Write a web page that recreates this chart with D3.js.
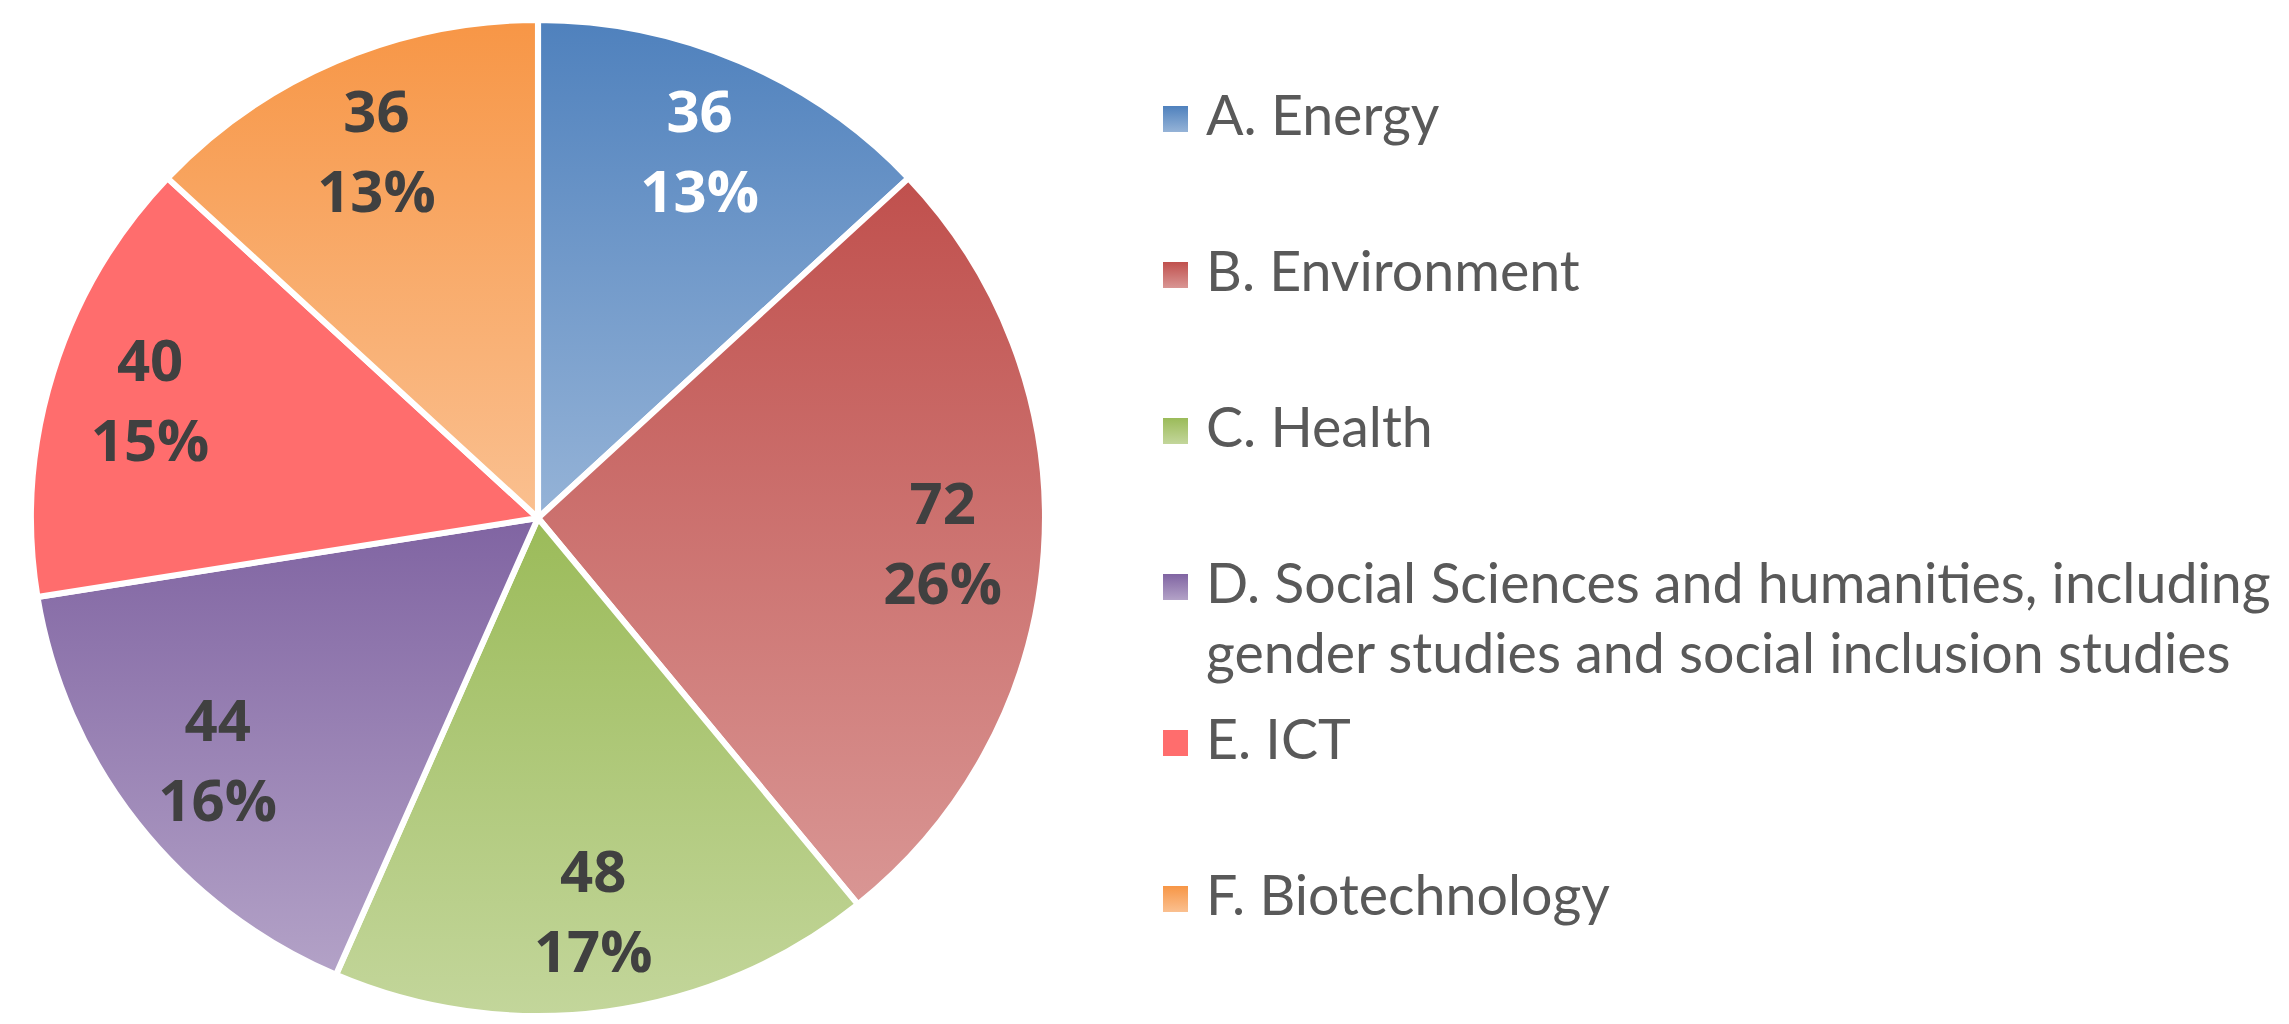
<!DOCTYPE html>
<html>
<head>
<meta charset="utf-8">
<script src="https://cdn.jsdelivr.net/npm/d3@7"></script>
<style>
  html, body { margin: 0; padding: 0; background: #fff; }
  svg { display: block; }
</style>
</head>
<body>
<svg width="2289" height="1024"></svg>
<script>
const svg = d3.select("svg");
const width = +svg.attr("width");
const height = +svg.attr("height");

// data
const categories = ["A. Energy", "B. Environment", "C. Health",
  "D. Social Sciences and humanities, including|gender studies and social inclusion studies",
  "E. ICT", "F. Biotechnology"];
const values = [36, 72, 48, 44, 40, 36];
const pctLabels = ["13%", "26%", "17%", "16%", "15%", "13%"];

// gradient colours, top -> bottom
const topColors = ["#4f81bd", "#c0504d", "#9bbb59", "#8064a2", "#ff6d6d", "#f79646"];
const bottomColors = ["#95b3d7", "#d99694", "#c3d69b", "#b3a2c7", "#ff6d6d", "#fac090"];
const labelColors = ["#ffffff", "#404040", "#404040", "#404040", "#404040", "#404040"];

const cx = 538, cy = 518;
const r = 498;
const sx = 507 / 498; // pie is a little wider than tall

const defs = svg.append("defs");
values.forEach((v, i) => {
  const g = defs.append("linearGradient")
    .attr("id", "grad" + i)
    .attr("x1", 0).attr("y1", 0).attr("x2", 0).attr("y2", 1);
  g.append("stop").attr("offset", "0%").attr("stop-color", topColors[i]);
  g.append("stop").attr("offset", "100%").attr("stop-color", bottomColors[i]);
});

const pie = d3.pie().sort(null).value(d => d);
const arcs = pie(values);
const arc = d3.arc().innerRadius(0).outerRadius(r);
const labelArc = d3.arc().innerRadius(r * 0.8).outerRadius(r * 0.8);

svg.append("g")
  .attr("transform", `translate(${cx},${cy}) scale(${sx},1)`)
  .selectAll("path")
  .data(arcs)
  .join("path")
  .attr("d", arc)
  .attr("fill", (d, i) => `url(#grad${i})`)
  .attr("stroke", "#fff")
  .attr("stroke-width", 6)
  .attr("stroke-linejoin", "round");

// slice labels: value and percentage
const labels = svg.append("g")
  .attr("font-family", "'Open Sans', sans-serif")
  .attr("font-weight", "bold")
  .attr("font-size", 58)
  .attr("text-anchor", "middle")
  .selectAll("g")
  .data(arcs)
  .join("g")
  .attr("transform", d => {
    const c = labelArc.centroid(d);
    return `translate(${cx + c[0] * sx},${cy + c[1]})`;
  })
  .attr("fill", (d, i) => labelColors[i]);

labels.append("text")
  .attr("y", -40 + 19)
  .text(d => d.data);
labels.append("text")
  .attr("y", 40 + 19)
  .text((d, i) => pctLabels[i]);

// legend
const legendX = 1163;
const legendY = d3.scalePoint().domain(d3.range(categories.length)).range([119, 899]);

const legend = svg.append("g")
  .selectAll("g")
  .data(categories)
  .join("g")
  .attr("transform", (d, i) => `translate(${legendX},${legendY(i)})`);

legend.append("rect")
  .attr("x", 0).attr("y", -13)
  .attr("width", 25).attr("height", 26)
  .attr("fill", (d, i) => `url(#grad${i})`);

legend.append("text")
  .attr("font-family", "Lato, sans-serif")
  .attr("font-size", 55.5)
  .attr("fill", "#595959")
  .selectAll("tspan")
  .data(d => d.split("|"))
  .join("tspan")
  .attr("x", 43)
  .attr("y", (d, j) => 16 + j * 70)
  .text(d => d);
</script>
</body>
</html>
